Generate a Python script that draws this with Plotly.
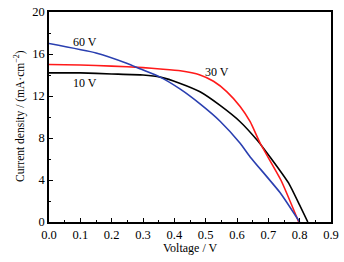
import plotly.graph_objects as go

v_10 = [0, 0.1, 0.2, 0.3, 0.355, 0.419, 0.482, 0.546, 0.61, 0.664, 0.685, 0.73, 0.765, 0.80, 0.826]
j_10 = [14.2, 14.2, 14.1, 14.0, 13.8, 13.2, 12.4, 11.1, 9.55, 7.8, 7.0, 5.2, 3.7, 1.6, 0]

v_30 = [0, 0.1, 0.2, 0.3, 0.355, 0.419, 0.482, 0.525, 0.568, 0.61, 0.642, 0.674, 0.74, 0.797]
j_30 = [15.0, 14.95, 14.85, 14.7, 14.57, 14.4, 14.0, 13.4, 12.4, 11.0, 9.55, 7.5, 4.0, 0]

v_60 = [0, 0.15, 0.25, 0.29, 0.355, 0.419, 0.482, 0.546, 0.61, 0.642, 0.74, 0.80]
j_60 = [17.0, 16.1, 15.1, 14.6, 13.8, 12.65, 11.25, 9.6, 7.5, 6.2, 2.7, 0]

labels = ["10 V", "30 V", "60 V"]
x_ticks = [0.0, 0.1, 0.2, 0.3, 0.4, 0.5, 0.6, 0.7, 0.8, 0.9]
y_ticks = [0, 4, 8, 12, 16, 20]

font = "Liberation Serif, Times New Roman, serif"
fig = go.Figure()
for v, j, c in [(v_10, j_10, "#000000"), (v_30, j_30, "#ff1a1a"), (v_60, j_60, "#2a3fb0")]:
    fig.add_trace(go.Scatter(x=v, y=j, mode="lines", line=dict(color=c, width=1.6, shape="spline", smoothing=0.5),
                             showlegend=False, hoverinfo="skip"))

for txt, x, y in [(labels[0], 0.115, 13.2), (labels[1], 0.537, 14.3), (labels[2], 0.115, 17.1)]:
    fig.add_annotation(x=x, y=y, text=txt, showarrow=False, font=dict(family=font, size=12, color="black"))

fig.add_annotation(xref="paper", yref="paper", x=0.5, y=-0.124, text="Voltage / V", showarrow=False,
                   font=dict(family=font, size=12, color="black"), xanchor="center", yanchor="middle")
fig.add_annotation(xref="paper", yref="paper", x=-0.103, y=0.505, text="Current density / (mA·cm<sup>−2</sup>)",
                   showarrow=False, textangle=-90, font=dict(family=font, size=11.5, color="black"),
                   xanchor="center", yanchor="middle")

axis_common = dict(showline=True, linecolor="black", linewidth=1.5, mirror=True, ticks="inside",
                   tickcolor="black", ticklen=4, tickwidth=1.2, showgrid=False, zeroline=False,
                   automargin=False, ticklabeloverflow="allow",
                   tickfont=dict(family=font, size=12.5, color="black"))
fig.update_xaxes(range=[0, 0.9], tickvals=x_ticks, ticktext=[f"{t:.1f}" for t in x_ticks],
                 minor=dict(dtick=0.05, ticks="inside", ticklen=2.5, tickcolor="black"),
                 **axis_common)
fig.update_yaxes(range=[0, 20], tickvals=y_ticks,
                 minor=dict(dtick=2, ticks="inside", ticklen=2.5, tickcolor="black"),
                 **axis_common)
fig.update_layout(width=344, height=262, margin=dict(l=49, r=13, t=12, b=40),
                  plot_bgcolor="white", paper_bgcolor="white")
fig.write_html("out.html", config={"displayModeBar": False},
               post_script="document.body.style.margin='0';")
